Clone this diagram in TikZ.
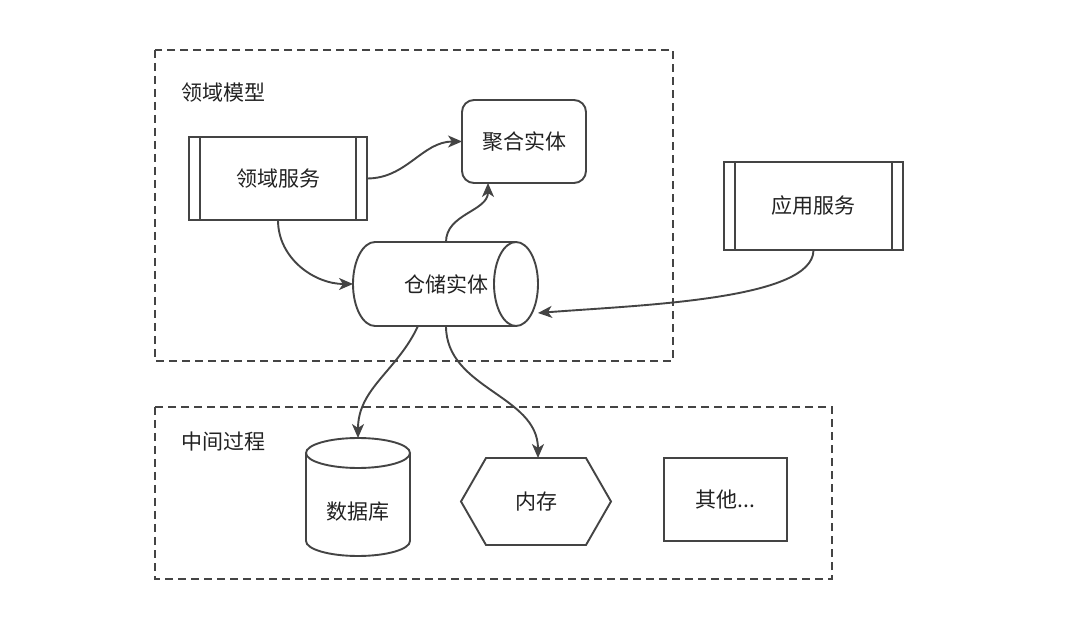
\documentclass[tikz,border=0pt]{standalone}
\usepackage{fontspec}
\newfontfamily\cjk{Noto Sans CJK SC}
\usetikzlibrary{arrows.meta,calc}
\definecolor{ln}{HTML}{444444}
\definecolor{tx}{HTML}{222222}
\begin{document}
\begin{tikzpicture}[x=1pt,y=1pt,
  every node/.style={font=\cjk\fontsize{21}{25}\selectfont, text=tx, outer sep=0pt},
  ln/.style={draw=ln,line width=1.9pt},
  grp/.style={draw=ln,line width=2.2pt,dash pattern=on 8pt off 5pt},
  proc/.style={ln, fill=white, minimum width=178pt, minimum height=83pt, inner sep=0pt},
  arr/.style={draw=ln, line width=1.9pt, -{Stealth[length=14pt,width=12pt,inset=4pt]}},
]
\useasboundingbox (0,0) rectangle (1080,630);
\fill[white] (0,0) rectangle (1080,630);

% groups
\draw[grp] (155,580) rectangle (673,269);
\draw[grp] (155,223) rectangle (832,51);
\node[anchor=west] (lbl1) at (178,537) {领域模型};
\node[anchor=west] (lbl2) at (178,188) {中间过程};

% domain service
\node[proc] (ds) at (278,451.5) {领域服务};
\draw[ln] ([xshift=11pt]ds.north west) -- ([xshift=11pt]ds.south west);
\draw[ln] ([xshift=-11pt]ds.north east) -- ([xshift=-11pt]ds.south east);

% aggregate entity
\node[ln, fill=white, rounded corners=12pt, minimum width=124pt, minimum height=83pt] (agg) at (524,488.5) {聚合实体};

% application service
\node[proc, minimum width=179pt, minimum height=88pt] (as) at (813.5,424) {应用服务};
\draw[ln] ([xshift=11pt]as.north west) -- ([xshift=11pt]as.south west);
\draw[ln] ([xshift=-11pt]as.north east) -- ([xshift=-11pt]as.south east);

% repository (horizontal cylinder)
\node[minimum width=185pt, minimum height=84pt, inner sep=0pt] (repo) at (445.5,346) {};
\draw[ln, fill=white] (516,388) -- (375,388) arc[start angle=90, end angle=270, x radius=22, y radius=42] -- (516,304);
\draw[ln, fill=white] (516,346) ellipse [x radius=22, y radius=42];
\node[fill=white, inner xsep=4pt, inner ysep=4pt] (repotxt) at (446,346) {仓储实体};

% database (vertical cylinder)
\node[minimum width=104pt, minimum height=118pt, inner sep=0pt] (db) at (358,133) {};
\draw[ln, fill=white] (306,177) -- (306,89) arc[start angle=180, end angle=360, x radius=52, y radius=15] -- (410,177);
\draw[ln, fill=white] (358,177) ellipse [x radius=52, y radius=15];
\node (dbtxt) at (358,118) {数据库};

% memory (hexagon)
\node[minimum width=150pt, minimum height=87pt, inner sep=0pt] (mem) at (536,128.5) {内存};
\draw[ln] (mem.west) -- ([xshift=25pt]mem.north west) -- ([xshift=-25pt]mem.north east) -- (mem.east) -- ([xshift=-25pt]mem.south east) -- ([xshift=25pt]mem.south west) -- cycle;

% other
\node[ln, minimum width=123pt, minimum height=83pt] (oth) at (725.5,130.5) {其他...};

% connectors
\draw[arr] (ds.east) to[out=0,in=180] (agg.west);
\draw[arr] (ds.south) to[out=-90,in=180] (repo.west);
\draw[arr] ([xshift=0.5pt]repo.north) to[out=90,in=-90] ([xshift=-36pt]agg.south);
\draw[arr] (as.south) .. controls (813.5,330) and (640,325) .. ([yshift=-29pt]repo.east);
\draw[arr] ([xshift=-27.5pt]repo.south) to[out=-115,in=90] (db.north);
\draw[arr] ([xshift=0.5pt]repo.south) to[out=-90,in=90] ([xshift=2pt]mem.north);
\end{tikzpicture}
\end{document}
